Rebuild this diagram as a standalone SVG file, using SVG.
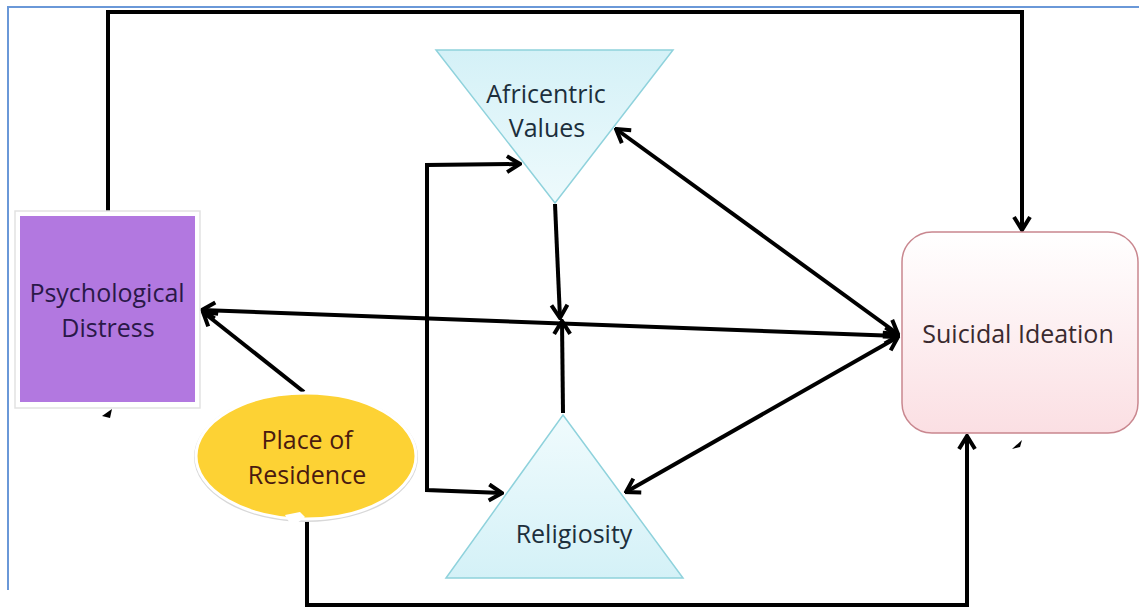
<svg xmlns="http://www.w3.org/2000/svg" width="1139" height="616" viewBox="0 0 1139 616">
<style>
.lbl{font-family:"Open Sans","Liberation Sans",sans-serif;font-size:25px;text-anchor:middle}
.cn{fill:none;stroke:#000;stroke-width:4;stroke-linejoin:miter}
</style>
<defs>
<marker id="ah" viewBox="0 0 20 20" refX="18" refY="10" markerWidth="20" markerHeight="20" markerUnits="userSpaceOnUse" orient="auto-start-reverse">
<path d="M5,2 L18,10 L5,18" fill="none" stroke="#000" stroke-width="4" stroke-linejoin="miter"/>
</marker>
<linearGradient id="tri" x1="0" y1="0" x2="0" y2="1">
<stop offset="0" stop-color="#d4f1f7"/><stop offset="1" stop-color="#eefafc"/>
</linearGradient>
<linearGradient id="tri2" x1="0" y1="0" x2="0" y2="1">
<stop offset="0" stop-color="#f0fbfd"/><stop offset="1" stop-color="#d4f1f7"/>
</linearGradient>
<linearGradient id="pink" x1="0" y1="0" x2="0" y2="1">
<stop offset="0" stop-color="#ffffff"/><stop offset="1" stop-color="#fbdfe3"/>
</linearGradient>
</defs>
<rect width="1139" height="616" fill="#fff"/>
<path d="M8,590 L8,7 L1139,7" fill="none" stroke="#6a98d8" stroke-width="2"/>

<g id="connectors">
<path class="cn" d="M108,212 L108,12 L1022,12 L1022,230" marker-end="url(#ah)"/>
<path class="cn" d="M307,520 L307,605 L967,605 L967,436" marker-end="url(#ah)"/>
<path class="cn" d="M202,310 L898,336" marker-start="url(#ah)" marker-end="url(#ah)"/>
<path class="cn" d="M304,392 L203,312" marker-end="url(#ah)"/>
<path class="cn" d="M616,129 L898,334" marker-start="url(#ah)" marker-end="url(#ah)"/>
<path class="cn" d="M626,492 L898,337" marker-start="url(#ah)" marker-end="url(#ah)"/>
<path class="cn" d="M555,204 L560,318" marker-end="url(#ah)"/>
<path class="cn" d="M563,413 L562,321" marker-end="url(#ah)"/>
<path class="cn" d="M520,164 L427,165 L427,490 L502,493" marker-start="url(#ah)" marker-end="url(#ah)"/>
<path d="M102,416 L112,409 L110,418 Z" fill="#000"/>
<path d="M1012,449 L1022,440 L1020,447 Z" fill="#000"/>
</g>

<g id="psych">
<rect x="15" y="211" width="185" height="197" fill="#fff" stroke="#e2e2e2" stroke-width="1.5"/>
<rect x="20" y="216" width="175" height="186" fill="#b278e0"/>
<text class="lbl" x="107" y="302" fill="#2a1848">Psychological</text>
<text class="lbl" x="108" y="337" fill="#2a1848">Distress</text>
</g>

<g id="afri">
<polygon points="436,50 673,50 555,203" fill="url(#tri)" stroke="#8fd2dc" stroke-width="1.5"/>
<text class="lbl" x="546" y="103" fill="#1c2f3c">Africentric</text>
<text class="lbl" x="547" y="137" fill="#1c2f3c">Values</text>
</g>

<g id="relig">
<polygon points="563,415 683,578 446,578" fill="url(#tri2)" stroke="#8fd2dc" stroke-width="1.5"/>
<text class="lbl" x="574" y="543" fill="#1c2f3c">Religiosity</text>
</g>

<g id="suicidal">
<rect x="902" y="232" width="236" height="201" rx="30" fill="url(#pink)" stroke="#c9878f" stroke-width="1.5"/>
<text class="lbl" x="1018" y="343" fill="#3a2a2e">Suicidal Ideation</text>
</g>

<g id="residence">
<ellipse cx="306" cy="457" rx="112" ry="65" fill="#d8d8d8"/>
<ellipse cx="306" cy="456" rx="110" ry="63" fill="#fdd234" stroke="#fff" stroke-width="3"/>
<path d="M285,515 L300,512 L305,517 L292,527 Z" fill="#fff"/>
<text class="lbl" x="307" y="449" fill="#4a1a10">Place of</text>
<text class="lbl" x="307" y="484" fill="#4a1a10">Residence</text>
</g>
</svg>
